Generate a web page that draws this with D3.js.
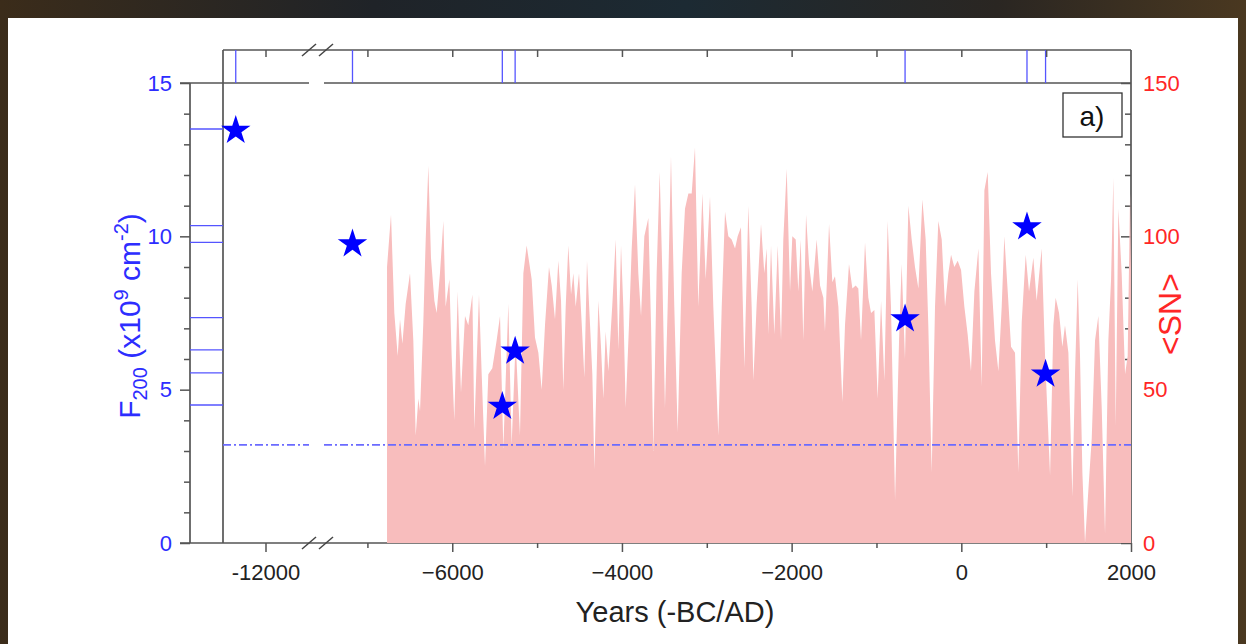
<!DOCTYPE html>
<html>
<head>
<meta charset="utf-8">
<script src="https://cdn.jsdelivr.net/npm/d3@7"></script>
<style>
  html, body { margin: 0; padding: 0; }
  body {
    width: 1246px; height: 644px; overflow: hidden;
    background: linear-gradient(90deg, #3b2c1a 0%, #1f2328 30%, #1c2a33 55%, #2a2622 80%, #4a3820 100%);
  }
  svg { position: absolute; left: 0; top: 0; font-family: "Liberation Sans", Arial, sans-serif; }
</style>
</head>
<body>
<svg id="chart" width="1246" height="644"></svg>
<script>
// ---------------------------------------------------------------
// datos: numero de manchas solares <SN> reconstruido (area rosa)
// ---------------------------------------------------------------

var snYear = [
  -6769,-6722,-6683,-6643,-6616,-6588,-6549,-6498,-6459,-6431,-6400,-6380,-6341,-6313,-6282,
  -6251,-6211,-6184,-6145,-6105,-6078,-6034,-6007,-5976,-5936,-5897,-5850,-5811,-5763,-5740,
  -5685,-5653,-5614,-5575,-5528,-5477,-5437,-5398,-5339,-5300,-5253,-5202,-5162,-5123,-5064,
  -5025,-4985,-4946,-4907,-4860,-4828,-4789,-4750,-4718,-4691,-4663,-4632,-4600,-4573,-4545,
  -4506,-4475,-4443,-4412,-4376,-4349,-4325,-4278,-4247,-4219,-4192,-4160,-4113,-4074,-4042,
  -4011,-3984,-3956,-3917,-3885,-3846,-3807,-3775,-3736,-3689,-3657,-3630,-3591,-3555,-3524,
  -3493,-3461,-3422,-3383,-3343,-3296,
  -3257,-3217,-3178,-3139,-3100,-3052,-3013,-2962,-2923,-2864,-2824,-2785,-2746,-2707,-2667,
  -2636,-2597,-2557,-2510,-2471,-2451,-2412,-2361,-2322,-2294,-2274,-2243,-2204,-2164,-2125,
  -2098,-2058,-2019,-1992,-1952,-1921,-1893,-1862,-1830,-1795,-1756,-1705,-1665,-1626,-1607,
  -1559,-1520,
  -1489,-1449,-1402,-1371,-1324,-1284,-1245,-1214,-1182,-1135,-1096,-1064,-1025,-986,-946,
  -907,-868,-829,-781,-734,-703,-664,-624,-585,-546,-506,-459,-420,-389,-349,
  -310,-271,-231,-192,-153,-121,-82,-43,-3,36,75,114,154,201,240,272,
  311,350,397,437,476,507,547,586,633,672,712,759,798,849,888,
  947,987,1046,1085,1112,1152,1191,1222,1262,1309,1340,1372,1399,1427,1458,
  1497,1537,1576,1615,1655,1694,1733,1765,1792,1820,1851,1890,1930,1961,1989,2000
];

var snValue = [
  90,107,75,61,73,65,78,88,66,35,47,43,72,99,123,
  93,79,75,88,105,77,86,61,40,82,49,74,71,81,37,
  81,55,25,55,57,66,74,31,78,32,66,35,88,97,86,
  67,62,50,71,90,84,73,92,79,50,77,97,81,88,77,
  88,72,54,92,71,55,24,79,64,47,69,56,78,99,63,
  97,77,44,71,96,117,88,74,100,106,71,30,88,121,88,
  44,77,126,77,36,88,
  109,114,114,129,77,114,86,113,77,35,77,108,100,99,96,
  100,103,57,110,77,53,78,104,88,96,68,97,68,97,66,
  99,122,82,100,99,82,99,66,107,91,82,99,84,80,69,
  104,85,
  87,77,46,71,91,83,84,83,66,98,80,75,76,47,79,
  53,105,77,14,66,91,60,110,99,90,83,112,99,71,23,
  77,105,99,77,88,94,90,92,89,77,68,56,82,96,51,115,
  121,88,66,56,77,100,82,64,62,23,72,94,82,93,79,
  96,61,22,71,80,75,64,71,62,15,55,86,61,23,0,
  17,34,66,74,44,3,66,86,119,38,109,88,55,61,114,90
];

// eventos extremos (estrellas) y su fluencia F200
var eventYear  = [-12350, -7176, -5410, -5259, -663, 774, 993];
var eventF200  = [13.5, 9.8, 4.5, 6.3, 7.35, 10.35, 5.55];
var f200Limit  = 3.2;

// marcas de los ejes
var xMajorLeft   = [-12000];
var xMajorRight  = [-6000, -4000, -2000, 0, 2000];
var xMinorRight  = [-7000, -5000, -3000, -1000, 1000];
var topTicksLeft = [-12000];
var topTicksRight = [-7000, -6000, -5000, -4000, -3000, -2000, -1000, 0, 1000];
var fTicks  = [0, 5, 10, 15];
var fMinor  = [1, 2, 3, 4, 6, 7, 8, 9, 11, 12, 13, 14];
var snTicks = [0, 50, 100, 150];
var snMinor = [10, 20, 30, 40, 60, 70, 80, 90, 110, 120, 130, 140];

// ---------------------------------------------------------------
// geometria
// ---------------------------------------------------------------
var xAxisL = 190, xFrameL = 223, xFrameR = 1131;
var yTop = 50, yPlotTop = 83, yBottom = 543;
var gapL = 309, gapR = 324;

var frameColor = "#555";
var blue = "#2d2dff", lineBlue = "#5555ff", red = "#ff2626";

var xLeft  = d3.scaleLinear().domain([-12500, -11500]).range([xFrameL, 308]);
var xRight = d3.scaleLinear().domain([-7500, 2000]).range([325, xFrameR]);
function xPos(y) { return y < -10000 ? xLeft(y) : xRight(y); }

var yF  = d3.scaleLinear().domain([0, 15]).range([yBottom, yPlotTop]);
var ySN = d3.scaleLinear().domain([0, 150]).range([yBottom, yPlotTop]);

var svg = d3.select("#chart");

// tarjeta blanca de fondo
svg.append("rect").attr("x", 8).attr("y", 18).attr("width", 1230).attr("height", 626).attr("fill", "#fff");

// ---------------------------------------------------------------
// marco y lineas de los ejes
// ---------------------------------------------------------------
function hline(x1, x2, y, color, w) {
  svg.append("line").attr("x1", x1).attr("x2", x2).attr("y1", y).attr("y2", y)
     .attr("stroke", color).attr("stroke-width", w);
}
function vline(x, y1, y2, color, w) {
  svg.append("line").attr("x1", x).attr("x2", x).attr("y1", y1).attr("y2", y2)
     .attr("stroke", color).attr("stroke-width", w);
}

hline(xFrameL, xFrameR, yTop, frameColor, 1.7);
hline(180, gapL, yPlotTop, frameColor, 1.7);
hline(gapR, xFrameR, yPlotTop, frameColor, 1.7);
hline(180, xFrameR, yBottom, frameColor, 1.7);
vline(xAxisL, yPlotTop, yBottom, frameColor, 1.7);
vline(xFrameL, yTop, yBottom, frameColor, 1.7);
vline(xFrameR, yTop, yBottom, frameColor, 1.7);

// lineas azules de los eventos (franja superior y franja izquierda)
eventYear.forEach(function(y) { vline(xPos(y), yTop, yPlotTop, lineBlue, 1.3); });
eventF200.forEach(function(f) { hline(xAxisL, xFrameL, yF(f), lineBlue, 1.3); });

// ---------------------------------------------------------------
// ejes con d3
// ---------------------------------------------------------------
function styleAxis(g) {
  g.select(".domain").remove();
  g.selectAll(".tick line").attr("stroke", frameColor).attr("stroke-width", 1.5);
}

function bottomAxis(scale, values, size, fmt) {
  svg.append("g")
     .attr("transform", "translate(0," + yBottom + ")")
     .call(d3.axisBottom(scale).tickValues(values).tickSize(size).tickPadding(12).tickFormat(fmt))
     .call(styleAxis)
     .selectAll("text").attr("fill", "#222").style("font-size", "22px");
}
bottomAxis(xLeft, xMajorLeft, 9, function(d) { return "-" + Math.abs(d); });
bottomAxis(xRight, xMajorRight, 9, function(d) { return d < 0 ? "\u2212" + Math.abs(d) : d; });
bottomAxis(xRight, xMinorRight, 5, function() { return ""; });

function topAxis(scale, values) {
  svg.append("g")
     .attr("transform", "translate(0," + yTop + ")")
     .call(d3.axisBottom(scale).tickValues(values).tickSize(7).tickFormat(""))
     .call(styleAxis);
}
topAxis(xLeft, topTicksLeft);
topAxis(xRight, topTicksRight);

// eje izquierdo F200
svg.append("g")
   .attr("transform", "translate(" + xAxisL + ",0)")
   .call(d3.axisLeft(yF).tickValues(fTicks).tickSize(10).tickPadding(8))
   .call(styleAxis)
   .selectAll("text").attr("fill", blue).style("font-size", "22px");
svg.append("g")
   .attr("transform", "translate(" + xAxisL + ",0)")
   .call(d3.axisLeft(yF).tickValues(fMinor).tickSize(6).tickFormat(""))
   .call(styleAxis);

// eje derecho <SN>: marcas hacia dentro, numeros afuera
svg.append("g")
   .attr("transform", "translate(" + xFrameR + ",0)")
   .call(d3.axisLeft(ySN).tickValues(snTicks).tickSize(10).tickFormat(""))
   .call(styleAxis);
svg.append("g")
   .attr("transform", "translate(" + xFrameR + ",0)")
   .call(d3.axisLeft(ySN).tickValues(snMinor).tickSize(6).tickFormat(""))
   .call(styleAxis);
svg.append("g")
   .attr("transform", "translate(" + xFrameR + ",0)")
   .call(d3.axisRight(ySN).tickValues(snTicks).tickSize(0).tickPadding(12))
   .call(styleAxis)
   .selectAll("text").attr("fill", red).style("font-size", "22px");

// ---------------------------------------------------------------
// area rosa <SN>
// ---------------------------------------------------------------
var snData = snYear.map(function(y, i) { return { year: y, sn: snValue[i] }; });

var area = d3.area()
    .x(function(d) { return xRight(d.year); })
    .y0(ySN(0))
    .y1(function(d) { return ySN(d.sn); });

svg.append("path")
   .datum(snData)
   .attr("d", area)
   .attr("fill", "#f8bdbd");

// linea punto-raya del umbral
[[xFrameL, gapL], [gapR, xFrameR]].forEach(function(seg) {
  svg.append("line")
     .attr("x1", seg[0]).attr("x2", seg[1])
     .attr("y1", yF(f200Limit)).attr("y2", yF(f200Limit))
     .attr("stroke", "#6b6bff").attr("stroke-width", 1.8)
     .attr("stroke-dasharray", "8,3,2,3");
});

// marcas de corte "//"
[yTop, yBottom].forEach(function(y) {
  [309, 326].forEach(function(cx) {
    svg.append("line")
       .attr("x1", cx - 7).attr("y1", y + 6).attr("x2", cx + 7).attr("y2", y - 6)
       .attr("stroke", "#444").attr("stroke-width", 1.5);
  });
});

// estrellas
var starSize = 270;
var star = d3.symbol().type(d3.symbolStar).size(starSize);
var rStar = Math.sqrt(starSize * 0.8908130915292852);
svg.selectAll(".star")
   .data(eventYear)
   .enter().append("path")
   .attr("class", "star")
   .attr("d", star)
   .attr("transform", function(d, i) {
     return "translate(" + xPos(d) + "," + (yF(eventF200[i]) + 0.095 * rStar) + ")";
   })
   .attr("fill", "#0000ff");

// ---------------------------------------------------------------
// titulos
// ---------------------------------------------------------------
var yTitle = svg.append("text")
   .attr("transform", "translate(140,316) rotate(-90)")
   .attr("text-anchor", "middle")
   .attr("fill", blue)
   .style("font-size", "30px");
yTitle.append("tspan").text("F");
yTitle.append("tspan").attr("dy", 7).style("font-size", "20px").text("200");
yTitle.append("tspan").attr("dy", -7).text(" (x10");
yTitle.append("tspan").attr("dy", -12).style("font-size", "20px").text("9");
yTitle.append("tspan").attr("dy", 12).text(" cm");
yTitle.append("tspan").attr("dy", -12).style("font-size", "20px").text("-2");
yTitle.append("tspan").attr("dy", 12).text(")");

svg.append("text")
   .attr("transform", "translate(1181,314) rotate(-90)")
   .attr("text-anchor", "middle")
   .attr("fill", red)
   .style("font-size", "32px")
   .text("<SN>");

svg.append("text")
   .attr("x", 675).attr("y", 622)
   .attr("text-anchor", "middle")
   .attr("fill", "#222")
   .style("font-size", "29px")
   .text("Years (-BC/AD)");

// etiqueta del panel
svg.append("rect")
   .attr("x", 1063).attr("y", 93).attr("width", 59).attr("height", 44)
   .attr("fill", "#fff").attr("stroke", "#333").attr("stroke-width", 1.3);
svg.append("text")
   .attr("x", 1092).attr("y", 126)
   .attr("text-anchor", "middle")
   .attr("fill", "#111")
   .style("font-size", "28px")
   .text("a)");
</script>
</body>
</html>
